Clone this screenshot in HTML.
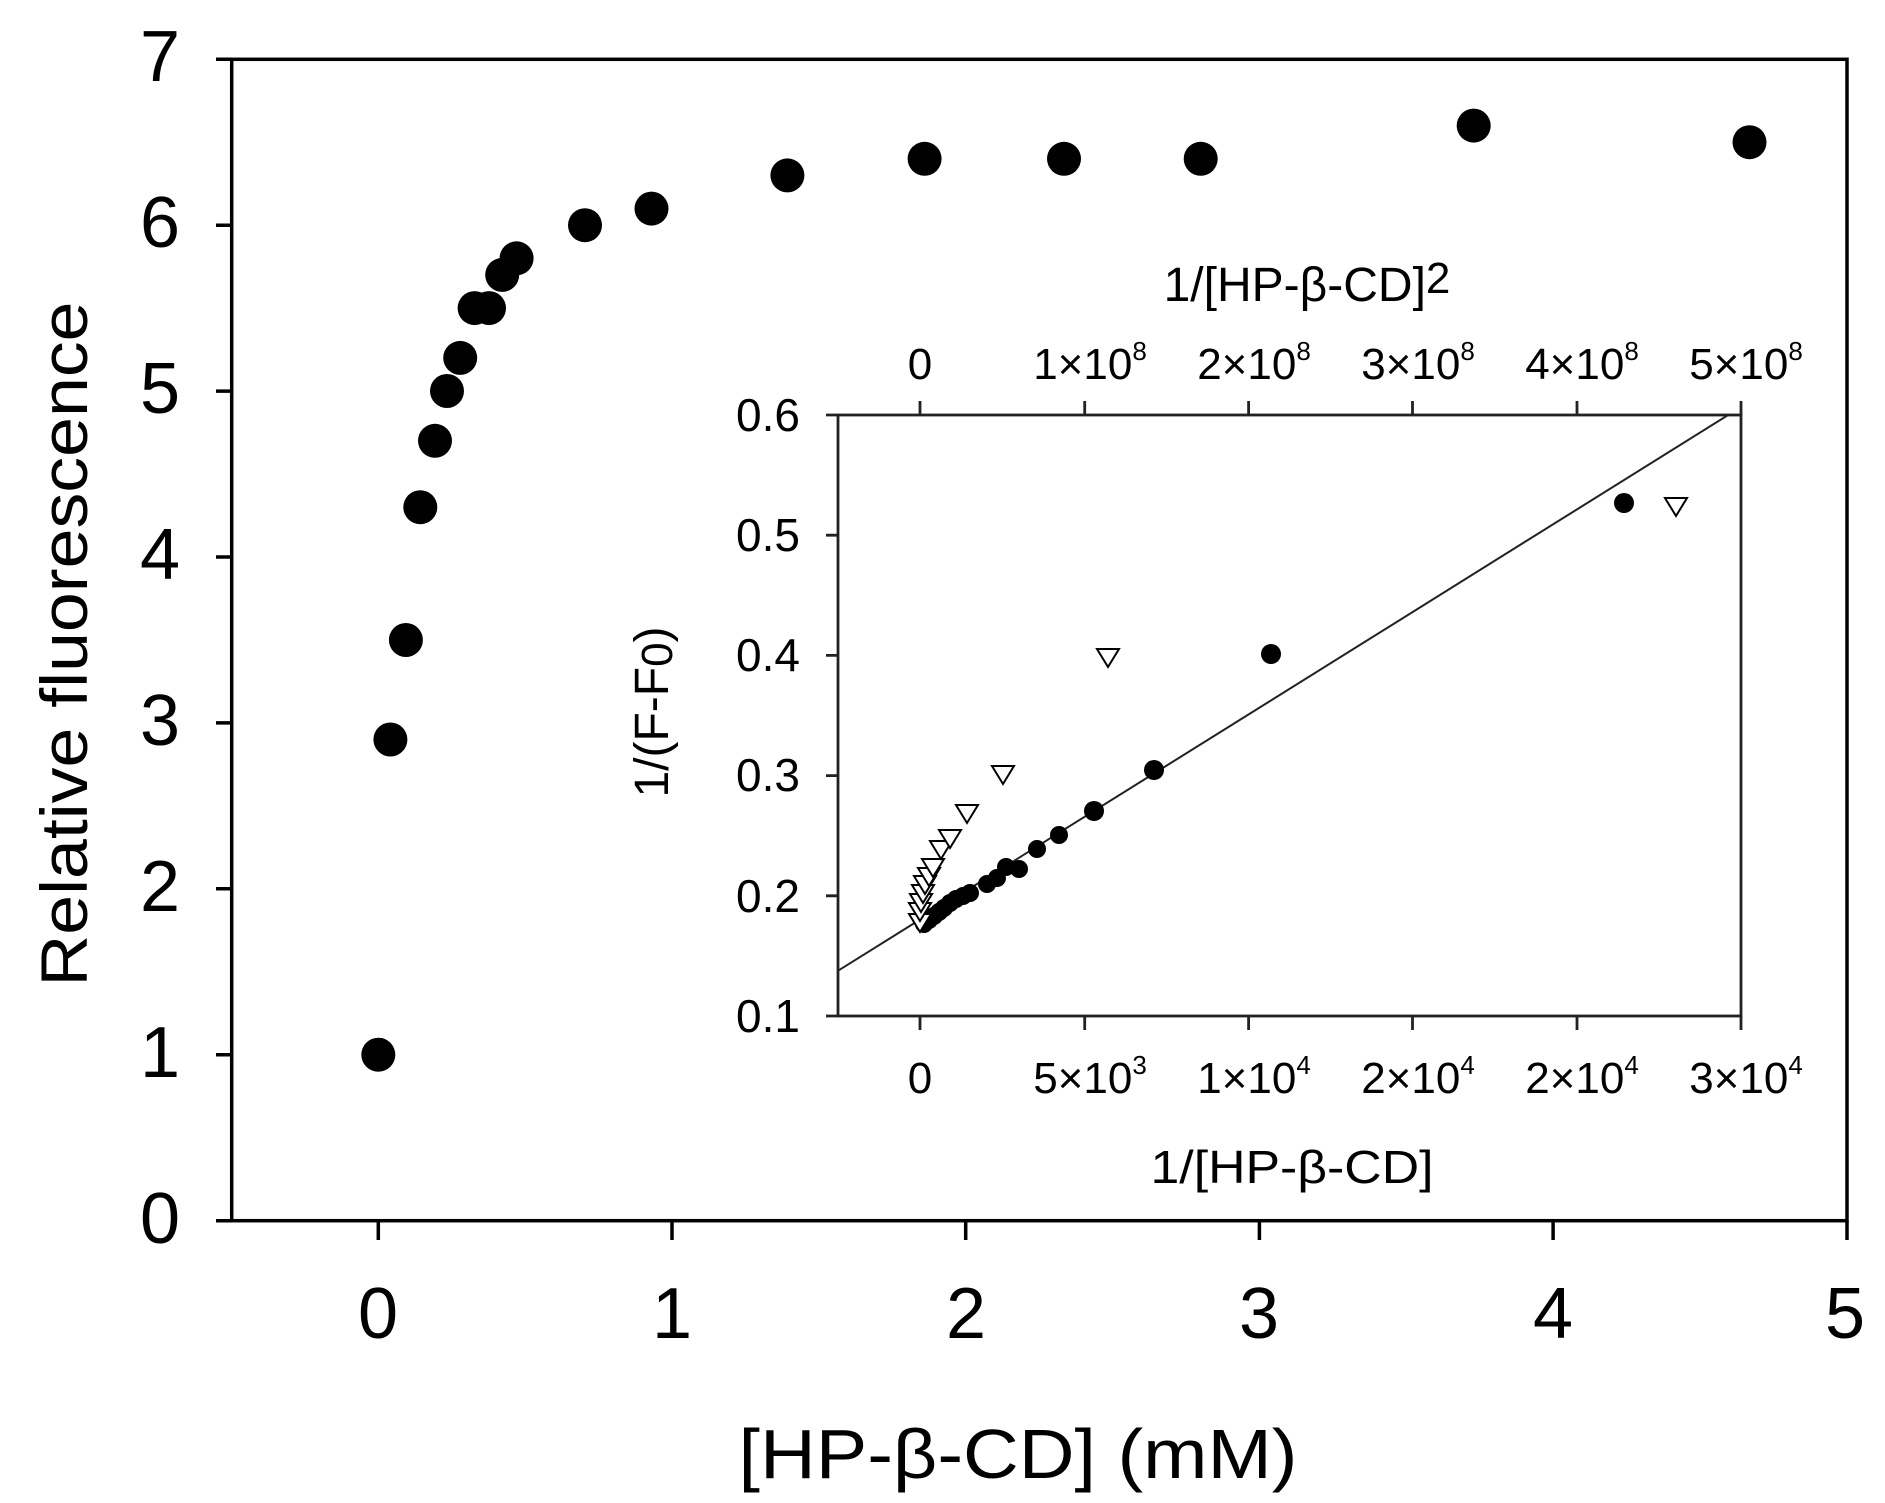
<!DOCTYPE html>
<html><head><meta charset="utf-8"><style>body{margin:0;background:#fff}svg{display:block}</style></head>
<body>
<svg width="1885" height="1503" viewBox="0 0 1885 1503" xmlns="http://www.w3.org/2000/svg" font-family="Liberation Sans, Arial, sans-serif">
<rect width="1885" height="1503" fill="#fff"/>
<g stroke="#000" stroke-width="3.5" fill="none">
<rect x="231.7" y="59.3" width="1615.3" height="1161.4"/>
<path d="M216 59.3H231.7M216 225.2H231.7M216 391.1H231.7M216 557H231.7M216 722.9H231.7M216 888.8H231.7M216 1054.7H231.7M216 1220.7H231.7"/>
<path d="M378.3 1220.7V1240M672 1220.7V1240M965.7 1220.7V1240M1259.4 1220.7V1240M1553.1 1220.7V1240M1847 1220.7V1240"/>
</g>
<g font-size="72" text-anchor="middle" fill="#000">
<text x="160" y="81">7</text><text x="160" y="247">6</text><text x="160" y="413">5</text><text x="160" y="579">4</text><text x="160" y="745">3</text><text x="160" y="911">2</text><text x="160" y="1077">1</text><text x="160" y="1243">0</text>
<text x="378" y="1338">0</text><text x="672" y="1338">1</text><text x="966" y="1338">2</text><text x="1259" y="1338">3</text><text x="1553" y="1338">4</text><text x="1845" y="1338">5</text>
</g>
<text x="1018" y="1478" font-size="70" text-anchor="middle" textLength="559" lengthAdjust="spacingAndGlyphs">[HP-β-CD] (mM)</text>
<text transform="translate(87,644) rotate(-90)" font-size="66" text-anchor="middle" textLength="685" lengthAdjust="spacingAndGlyphs">Relative fluorescence</text>
<g fill="#000">
<circle cx="378.3" cy="1054.7" r="17"/><circle cx="390.4" cy="739.5" r="17"/><circle cx="405.9" cy="640" r="17"/><circle cx="420.3" cy="507.2" r="17"/><circle cx="435" cy="440.8" r="17"/><circle cx="447" cy="391" r="17"/><circle cx="460.2" cy="357.9" r="17"/><circle cx="474.6" cy="308.1" r="17"/><circle cx="489" cy="308.1" r="17"/><circle cx="502.2" cy="274.9" r="17"/><circle cx="516.6" cy="258.3" r="17"/><circle cx="585" cy="225.2" r="17"/><circle cx="651.5" cy="208.6" r="17"/><circle cx="787.4" cy="175.4" r="17"/><circle cx="924.6" cy="158.8" r="17"/><circle cx="1064" cy="158.8" r="17"/><circle cx="1200.7" cy="158.8" r="17"/><circle cx="1473.7" cy="125.6" r="17"/><circle cx="1749.5" cy="142.2" r="17"/>
</g>
<defs><clipPath id="ic"><rect x="837" y="415" width="904" height="601"/></clipPath></defs>
<g stroke="#222" stroke-width="2.8" fill="none">
<rect x="838" y="415" width="903" height="601"/>
<path d="M826 415H838M826 535.2H838M826 655.4H838M826 775.6H838M826 895.8H838M826 1016H838"/>
<path d="M920 1016V1030M1084.7 1016V1030M1248.6 1016V1030M1412.5 1016V1030M1577 1016V1030M1741 1016V1030"/>
<path d="M920 415V401M1084.7 415V401M1248.6 415V401M1412.5 415V401M1577 415V401M1741 415V401"/>
</g>
<line x1="836" y1="972" x2="1741" y2="407" stroke="#222" stroke-width="2" clip-path="url(#ic)"/>
<g fill="#000">
<circle cx="924" cy="924" r="9"/><circle cx="929" cy="920" r="9"/><circle cx="934" cy="916" r="9"/><circle cx="939" cy="912" r="9"/><circle cx="944" cy="908" r="9"/><circle cx="950" cy="903" r="9"/><circle cx="956" cy="899" r="9"/><circle cx="963" cy="896" r="9"/><circle cx="970" cy="893" r="9"/><circle cx="987" cy="884" r="9"/><circle cx="997" cy="878" r="9"/><circle cx="1006" cy="867" r="9"/><circle cx="1019" cy="869" r="9"/><circle cx="1037" cy="849" r="9"/><circle cx="1059" cy="835" r="9"/><circle cx="1094" cy="811" r="10"/><circle cx="1154" cy="770" r="10"/><circle cx="1271" cy="654" r="10"/><circle cx="1624" cy="503" r="10"/>
</g>
<g fill="#fff" stroke="#000" stroke-width="2">
<path d="M-11 -8H11L0 10Z" transform="translate(920,922)"/>
<path d="M-11 -8H11L0 10Z" transform="translate(920,911)"/>
<path d="M-11 -8H11L0 10Z" transform="translate(921,902)"/>
<path d="M-11 -8H11L0 10Z" transform="translate(923,893)"/>
<path d="M-11 -8H11L0 10Z" transform="translate(925,884)"/>
<path d="M-11 -8H11L0 10Z" transform="translate(929,876)"/>
<path d="M-11 -8H11L0 10Z" transform="translate(933,867)"/>
<path d="M-11 -8H11L0 10Z" transform="translate(941,849)"/>
<path d="M-11 -8H11L0 10Z" transform="translate(950,838)"/>
<path d="M-11 -8H11L0 10Z" transform="translate(967,813)"/>
<path d="M-11 -8H11L0 10Z" transform="translate(1003,774)"/>
<path d="M-11 -8H11L0 10Z" transform="translate(1108,657)"/>
<path d="M-11 -8H11L0 10Z" transform="translate(1676,506)"/>
</g>
<g font-size="46" text-anchor="middle" fill="#000">
<text x="768" y="431">0.6</text><text x="768" y="551">0.5</text><text x="768" y="671">0.4</text><text x="768" y="791">0.3</text><text x="768" y="912">0.2</text><text x="768" y="1032">0.1</text>
</g>
<g font-size="44" text-anchor="middle" fill="#000">
<text x="920" y="1093">0</text>
<text x="1090" y="1093">5×10<tspan font-size="26" dy="-19">3</tspan></text>
<text x="1254" y="1093">1×10<tspan font-size="26" dy="-19">4</tspan></text>
<text x="1418" y="1093">2×10<tspan font-size="26" dy="-19">4</tspan></text>
<text x="1582" y="1093">2×10<tspan font-size="26" dy="-19">4</tspan></text>
<text x="1746" y="1093">3×10<tspan font-size="26" dy="-19">4</tspan></text>
<text x="920" y="379">0</text>
<text x="1090" y="379">1×10<tspan font-size="26" dy="-19">8</tspan></text>
<text x="1254" y="379">2×10<tspan font-size="26" dy="-19">8</tspan></text>
<text x="1418" y="379">3×10<tspan font-size="26" dy="-19">8</tspan></text>
<text x="1582" y="379">4×10<tspan font-size="26" dy="-19">8</tspan></text>
<text x="1746" y="379">5×10<tspan font-size="26" dy="-19">8</tspan></text>
</g>
<text x="1292" y="1183" font-size="46" text-anchor="middle" textLength="283" lengthAdjust="spacingAndGlyphs">1/[HP-β-CD]</text>
<text x="1307" y="301" font-size="48" text-anchor="middle">1/[HP-β-CD]<tspan font-size="44" dy="-8">2</tspan></text>
<text transform="translate(668,712) rotate(-90)" font-size="48" text-anchor="middle">1/(F-F<tspan font-size="44" dy="4">0</tspan><tspan dy="-4">)</tspan></text>
</svg>
</body></html>
